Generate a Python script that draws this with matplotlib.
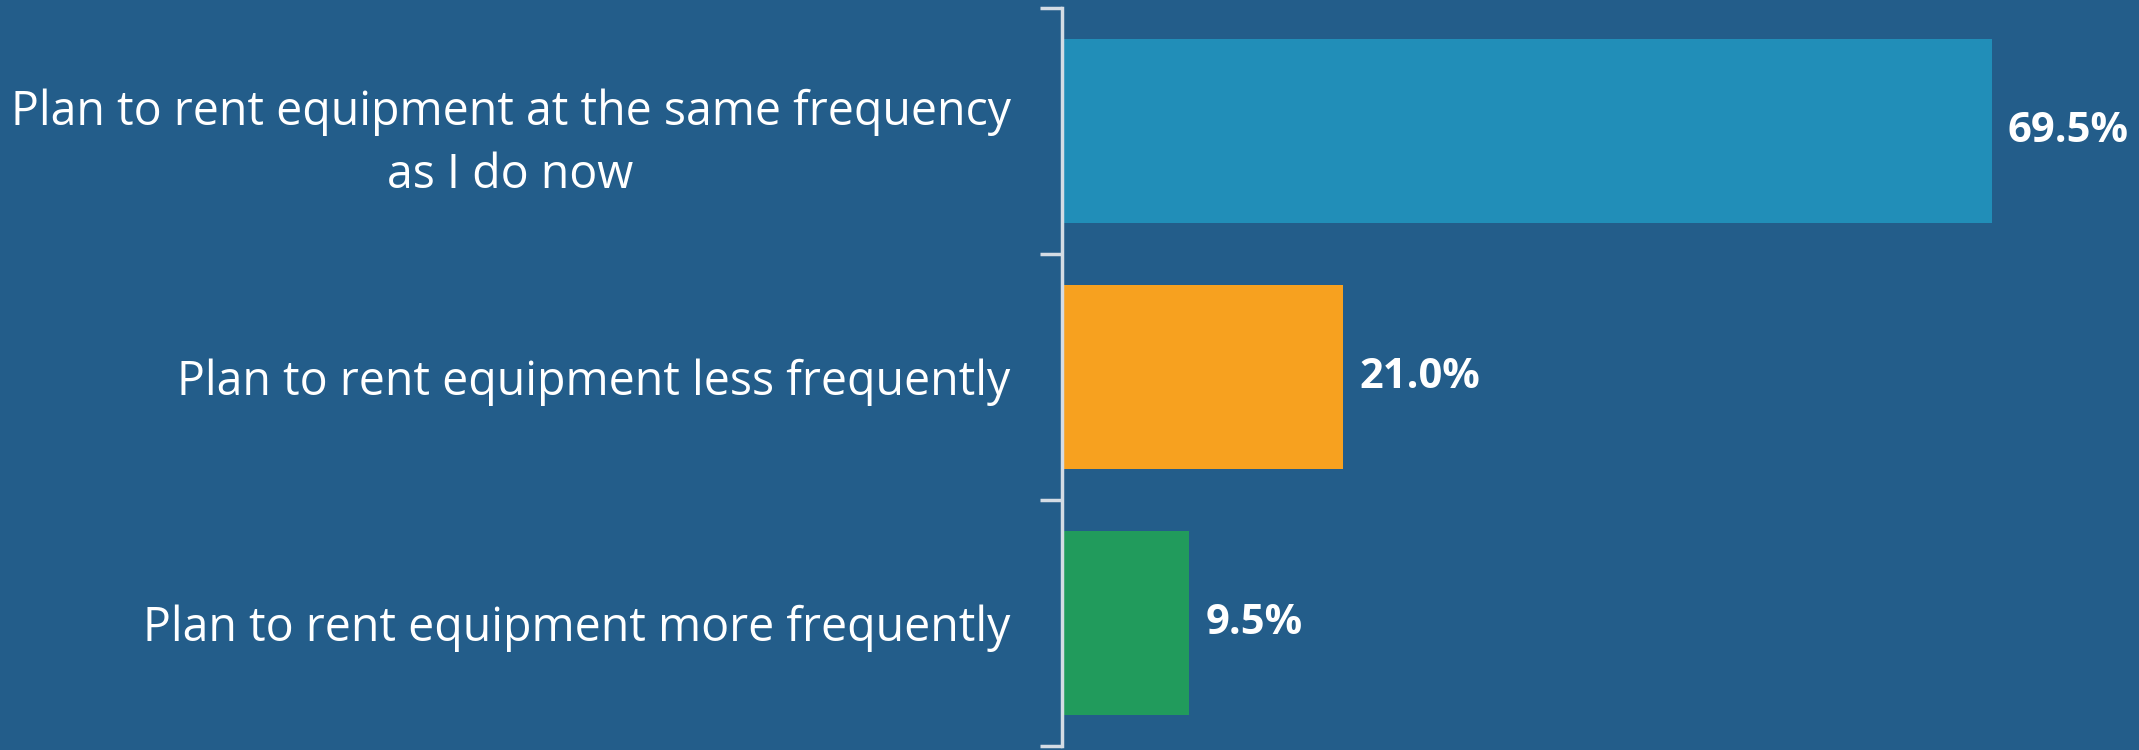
import numpy as np
import matplotlib.pyplot as plt

categories = ['Plan to rent equipment at the same frequency\nas I do now',
              'Plan to rent equipment less frequently',
              'Plan to rent equipment more frequently']
values = [69.5, 21.0, 9.5]
value_labels = ['69.5%', '21.0%', '9.5%']
colors = ['#218EB8', '#F7A11F', '#219B5C']

bg = '#235D8A'
fig = plt.figure(figsize=(21.39, 7.5), dpi=100, facecolor=bg)
ax = fig.add_axes([1062 / 2139, 4 / 750, 1 - 1062 / 2139, 738 / 750])
ax.set_facecolor(bg)

y = np.arange(len(categories))
ax.barh(y, values, height=0.75, color=colors)
ax.set_xlim(0, 80.5)
ax.set_ylim(len(categories) - 0.5, -0.5)

# value labels
for yi, v, lab in zip(y, values, value_labels):
    ax.text(v + 1.2, yi, lab, va='center', ha='left', color='white',
            fontsize=30, fontweight='bold', family='Open Sans')

# category labels
ax.set_yticks(y)
ax.set_yticklabels(categories)
for t in ax.get_yticklabels():
    t.set_multialignment('center')
    t.set_fontsize(33.5)
    t.set_family('Open Sans')
    t.set_color('white')
    t.set_linespacing(1.4)
ax.tick_params(axis='y', which='major', length=0, pad=37)

# tick marks at category boundaries
ax.set_yticks(np.arange(-0.5, len(categories)), minor=True)
ax.tick_params(axis='y', which='minor', length=16, width=2.5, color='#D4DCE4', direction='out')

ax.set_xticks([])
for s in ['top', 'right', 'bottom']:
    ax.spines[s].set_visible(False)
ax.spines['left'].set_color('#D4DCE4')
ax.spines['left'].set_linewidth(2.5)

fig.savefig('out.png', dpi=100, facecolor=bg)
